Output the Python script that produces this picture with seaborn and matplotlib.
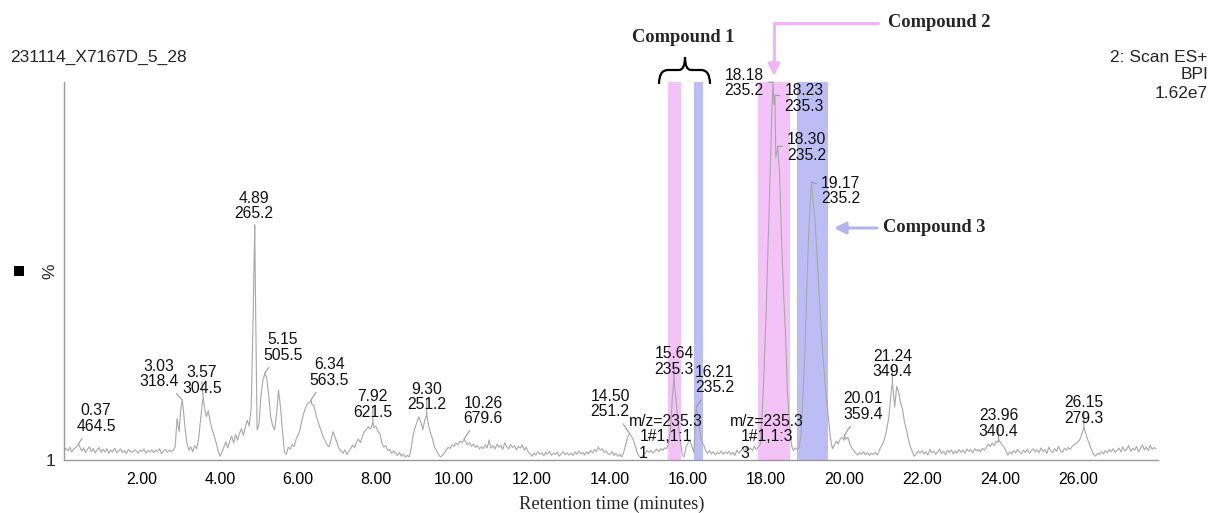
import numpy as np
import pandas as pd
import matplotlib
matplotlib.use("Agg")
import matplotlib.pyplot as plt
import seaborn as sns
from matplotlib.path import Path
from matplotlib.patches import PathPatch, Rectangle

# ---------------------------------------------------------------------------
# Base peak intensity trace (% of 1.62e7), one row per minute,
# scans every 0.05 min (t = minute + 0.05 * k, k = 0..19)
# ---------------------------------------------------------------------------
scan_interval = 0.05
bpi_rows = [
    [2.2, 3.1, 2.4, 3.4, 2.1, 2.9, 3.3, 3.8, 3.6, 2.4, 3.2, 2.0, 2.8, 3.5, 2.2, 3.0, 1.9, 2.7, 3.3, 2.0],   # 0
    [2.8, 2.1, 3.0, 1.8, 2.6, 2.2, 3.1, 1.9, 2.4, 2.9, 2.0, 2.5, 1.7, 2.8, 2.3, 2.0, 2.7, 2.4, 1.8, 2.6],   # 1
    [2.3, 2.9, 1.8, 2.5, 2.1, 2.7, 1.9, 2.6, 2.2, 3.0, 1.7, 2.4, 2.8, 2.0, 2.6, 2.2, 2.5, 3.5, 11.0, 7.5],  # 2
    [14.0, 14.5, 8.7, 4.5, 2.6, 3.5, 2.2, 3.8, 3.0, 5.5, 10.5, 15.5, 14.0, 11.5, 13.0, 10.0, 8.0, 6.5, 4.5, 2.5],  # 3
    [1.0, 2.0, 3.5, 4.8, 3.2, 5.0, 6.3, 4.5, 6.8, 5.2, 7.0, 8.3, 6.5, 8.8, 10.5, 9.0, 14.0, 38.0, 52.0, 8.0],  # 4
    [9.5, 17.0, 21.0, 23.0, 21.5, 17.0, 11.5, 9.0, 8.0, 12.0, 18.5, 14.0, 8.0, 2.0, 1.5, 3.4, 2.8, 4.2, 3.5, 5.5],  # 5
    [6.5, 8.0, 10.5, 12.5, 14.0, 15.0, 15.2, 14.8, 14.5, 12.5, 10.5, 9.0, 7.5, 6.0, 5.0, 4.0, 3.5, 5.5, 7.5, 6.0],  # 6
    [4.5, 3.0, 2.5, 1.8, 2.6, 1.5, 2.2, 3.0, 4.0, 3.2, 4.8, 5.5, 4.6, 6.2, 7.5, 8.0, 8.8, 8.2, 9.2, 8.6],   # 7
    [8.9, 7.5, 7.0, 4.5, 3.4, 3.8, 2.5, 2.8, 1.8, 2.4, 1.8, 1.2, 2.0, 1.0, 1.6, 0.8, 1.2, 0.8, 3.0, 6.5],   # 8
    [8.5, 10.0, 11.4, 10.0, 8.0, 10.5, 12.0, 9.0, 7.0, 5.5, 3.4, 2.5, 1.5, 0.8, 1.2, 1.8, 2.6, 3.4, 3.0, 4.0],  # 9
    [3.6, 4.5, 4.0, 5.0, 4.6, 5.2, 4.8, 4.0, 4.6, 3.6, 4.2, 3.3, 3.8, 2.9, 3.5, 3.0, 4.0, 3.2, 5.3, 3.1],   # 10
    [3.8, 2.9, 4.2, 3.4, 3.9, 2.8, 4.6, 3.5, 3.0, 4.1, 3.3, 3.8, 2.7, 3.6, 3.1, 4.0, 2.6, 3.4, 2.2, 1.6],   # 11
    [1.0, 1.8, 1.3, 2.2, 1.5, 1.9, 1.1, 2.0, 1.6, 2.3, 1.2, 1.8, 1.5, 2.1, 1.0, 1.7, 2.2, 1.4, 1.9, 1.3],   # 12
    [1.8, 1.2, 2.1, 1.5, 2.4, 1.7, 2.0, 1.3, 2.2, 1.6, 2.5, 1.9, 2.8, 2.2, 3.4, 2.6, 3.0, 2.0, 2.4, 1.6],   # 13
    [1.5, 2.2, 1.2, 1.8, 1.0, 1.5, 0.8, 2.0, 4.0, 6.0, 7.0, 6.2, 5.3, 3.5, 1.8, 1.0, 0.5, 1.2, 1.8, 2.5],   # 14
    [2.0, 2.6, 1.8, 2.4, 2.9, 2.2, 3.0, 2.5, 3.2, 3.0, 4.5, 8.0, 17.0, 20.0, 15.0, 9.0, 5.3, 1.5, 0.8, 3.5],  # 15
    [4.5, 5.3, 3.5, 2.0, 12.5, 11.0, 8.0, 5.0, 4.0, 2.5, 1.8, 2.5, 1.6, 2.2, 1.4, 2.0, 1.6, 2.4, 1.5, 2.1],  # 16
    [1.7, 2.3, 1.5, 2.0, 1.2, 2.6, 1.8, 2.4, 3.0, 2.2, 3.4, 2.6, 3.2, 2.5, 3.6, 2.8, 3.5, 4.0, 12.0, 24.0],  # 17
    [38.0, 56.0, 75.0, 92.0, 94.0, 80.0, 83.0, 75.0, 58.0, 44.0, 33.0, 18.0, 10.0, 4.0, 2.5, 3.2, 2.8, 3.5, 7.0, 18.0],  # 18
    [30.0, 47.0, 62.0, 71.0, 69.0, 64.0, 56.0, 46.0, 37.0, 29.0, 22.0, 16.0, 11.0, 6.0, 3.0, 3.8, 5.0, 4.2, 5.5, 6.0],  # 19
    [5.2, 5.5, 6.0, 4.2, 3.2, 2.5, 1.8, 1.3, 2.0, 1.5, 2.2, 1.4, 1.9, 1.2, 1.8, 1.4, 2.0, 1.3, 2.5, 3.5],   # 20
    [4.5, 6.0, 8.5, 11.4, 17.0, 19.5, 14.0, 19.5, 18.0, 15.0, 13.5, 10.0, 8.0, 5.5, 3.5, 2.2, 1.0, 1.6, 2.4, 1.8],  # 21
    [2.5, 1.6, 2.2, 1.3, 2.8, 1.9, 2.4, 1.5, 2.1, 2.9, 1.7, 2.3, 1.4, 2.6, 2.0, 2.7, 1.6, 2.4, 1.9, 2.8],   # 22
    [2.0, 2.6, 1.8, 2.9, 2.3, 2.7, 1.9, 3.0, 2.4, 2.8, 2.2, 3.1, 2.6, 3.4, 4.2, 3.6, 4.5, 3.8, 5.0, 4.6],   # 23
    [4.8, 4.0, 3.5, 2.4, 1.3, 2.2, 1.6, 2.5, 1.9, 2.8, 2.1, 1.7, 2.6, 2.0, 2.9, 1.8, 2.4, 3.0, 2.1, 2.7],   # 24
    [1.9, 3.2, 2.2, 2.8, 1.7, 3.4, 2.4, 2.0, 3.0, 2.3, 3.6, 2.5, 2.0, 3.1, 2.6, 3.3, 2.8, 3.6, 4.0, 4.5],   # 25
    [4.8, 5.5, 7.0, 8.5, 7.0, 5.3, 4.0, 2.6, 1.5, 1.0, 1.8, 1.4, 2.2, 1.6, 2.5, 1.9, 2.8, 2.2, 3.0, 2.0],   # 26
    [2.6, 3.2, 2.1, 3.5, 2.4, 2.9, 3.8, 2.3, 3.1, 2.6, 3.6, 2.2, 3.0, 4.0, 2.7, 3.4, 2.5, 3.9, 2.8, 3.3],   # 27
]
bpi_last = 2.9  # scan at 28.00 min

# Labelled peak apexes: retention time (min), intensity (%), base peak m/z
peak_rt = [0.37, 3.03, 3.57, 4.89, 5.15, 6.34, 7.92, 9.30, 10.26, 14.50,
           15.64, 16.21, 18.18, 18.23, 18.30, 19.17, 20.01, 21.24, 23.96, 26.15]
peak_pct = [4.3, 15.9, 16.4, 62.0, 23.0, 16.0, 10.0, 12.0, 5.6, 7.0,
            21.5, 14.0, 100.0, 96.5, 83.0, 73.5, 6.6, 20.6, 5.5, 8.5]
peak_mz = [464.5, 318.4, 304.5, 265.2, 505.5, 563.5, 621.5, 251.2, 679.6, 251.2,
           235.3, 235.2, 235.2, 235.3, 235.2, 235.2, 359.4, 349.4, 340.4, 279.3]

# Extracted-ion windows (m/z = 235.3) marking the compounds
band_start = [15.49, 16.15, 17.79, 18.79]
band_end = [15.82, 16.38, 18.61, 19.58]
band_group = ["pink", "blue", "pink", "blue"]

x_tick_values = [2, 4, 6, 8, 10, 12, 14, 16, 18, 20, 22, 24, 26]
x_tick_labels = ["2.00", "4.00", "6.00", "8.00", "10.00", "12.00", "14.00",
                 "16.00", "18.00", "20.00", "22.00", "24.00", "26.00"]

# ---------------------------------------------------------------------------
# Build the trace: regular scans plus the labelled apex scans
# ---------------------------------------------------------------------------
assert all(len(r) == 20 for r in bpi_rows)
grid_pct = np.concatenate([np.asarray(r, float) for r in bpi_rows] + [[bpi_last]])
grid_rt = np.round(np.arange(grid_pct.size) * scan_interval, 2)
apex_rt = np.asarray(peak_rt, float)
apex_pct = np.asarray(peak_pct, float)
keep = np.min(np.abs(grid_rt[:, None] - apex_rt[None, :]), axis=1) > 0.006
rt_all = np.concatenate([grid_rt[keep], apex_rt])
pct_all = np.concatenate([grid_pct[keep], apex_pct])
order = np.argsort(rt_all)
trace = pd.DataFrame({"rt": rt_all[order], "pct": pct_all[order]})

# ---------------------------------------------------------------------------
# Styling
# ---------------------------------------------------------------------------
sns.set_style("white")
plt.rcParams["font.family"] = ["Liberation Sans", "DejaVu Sans"]

W, H = 1209, 513
fig = plt.figure(figsize=(W / 100, H / 100), dpi=100)
ax_left, ax_right, ax_top, ax_bottom = 64, 1158, 82, 460
ax = fig.add_axes([ax_left / W, 1 - ax_bottom / H,
                   (ax_right - ax_left) / W, (ax_bottom - ax_top) / H])

band_colors = {"pink": "#f3c3f7", "blue": "#bdbdf5"}
for s, e, g in zip(band_start, band_end, band_group):
    ax.axvspan(s, e, color=band_colors[g], lw=0, zorder=0)

trace_color = "#a8a8a8"
sns.lineplot(data=trace, x="rt", y="pct", ax=ax, color=trace_color,
             linewidth=0.8, estimator=None, sort=False, zorder=2)

ax.set_xlim(0, 28.05)
ax.set_ylim(0, 100)
ax.set_xlabel("")
ax.set_ylabel("")

for side in ("top", "right"):
    ax.spines[side].set_visible(False)
for side in ("left", "bottom"):
    ax.spines[side].set_color("#9a9a9a")
    ax.spines[side].set_linewidth(1.0)

# x ticks: labelled every 2 min, a tick every minute, fine ticks every 10 s
major_pos = np.arange(1, 28)
ax.set_xticks(major_pos)
ax.set_xticklabels([x_tick_labels[x_tick_values.index(m)] if m in x_tick_values else ""
                    for m in major_pos])
ax.set_xticks(np.arange(0, 28.05, 1 / 6), minor=True)
ax.tick_params(axis="x", which="major", direction="out", length=5, width=0.8,
               color="#9a9a9a", labelsize=11.5, labelcolor="black", pad=4)
ax.tick_params(axis="x", which="minor", direction="out", length=3, width=0.7,
               color="#9a9a9a")
ax.set_yticks(np.arange(0, 101, 10))
ax.set_yticklabels([])
ax.tick_params(axis="y", which="major", direction="out", length=4, width=0.8,
               color="#9a9a9a")

# Peak labels (offsets in pixels from the apex)
label_offsets_px = [(17.5, 25), (-23, 26), (-1.5, 17.5), (-1, 19.5), (18, 25.5),
                    (18, 27), (0, 17.5), (0, 17.5), (19, 28), (-19.5, 29.5),
                    (0, 17.5), (18.5, 27), (-29, -1), (29, -3), (29, -1),
                    (29, -9), (19, 28.5), (0, 18), (0, 16), (0, 17.5)]
for t, p, mz, (dx, dy) in zip(peak_rt, peak_pct, peak_mz, label_offsets_px):
    ax.annotate(f"{t:.2f}\n{mz:.1f}", xy=(t, p), xytext=(dx, dy),
                textcoords="offset pixels", ha="center", va="center",
                fontsize=11.3, color="#111111", linespacing=1.05, zorder=5,
                annotation_clip=False,
                arrowprops=dict(arrowstyle="-", color="#9a9a9a", lw=0.8,
                                shrinkA=1, shrinkB=0))

# Extracted-ion trace captions
for tx, line3_t in ((15.43, 14.86), (18.02, 17.45)):
    caption = "m/z=235.3\n1#1,1:1" if tx < 17 else "m/z=235.3\n1#1,1:3"
    ax.text(tx, 8.2, caption, ha="center", va="center", fontsize=11.3,
            color="#111111", linespacing=1.05, zorder=5)
    ax.text(line3_t, 1.6, "1" if tx < 17 else "3", ha="center", va="center",
            fontsize=11.3, color="#111111", zorder=5)


def fpx(x, y):
    """Figure-fraction coordinates from pixel coordinates measured from the top."""
    return x / W, 1 - y / H


# Header texts
fig.text(*fpx(10, 57), "231114_X7167D_5_28", ha="left", va="center", fontsize=12.5)
fig.text(*fpx(1208, 57), "2: Scan ES+", ha="right", va="center", fontsize=12.5)
fig.text(*fpx(1208, 75), "BPI", ha="right", va="center", fontsize=12.5)
fig.text(*fpx(1208, 93), "1.62e7", ha="right", va="center", fontsize=12.5)

# Left axis decorations
fig.patches.append(Rectangle(fpx(14, 276), 10 / W, 10 / H, transform=fig.transFigure,
                             color="black", lw=0))
fig.text(*fpx(50, 271), "%", rotation=90, ha="center", va="center", fontsize=12.5)
fig.text(*fpx(55, 461), "1", ha="right", va="center", fontsize=12.5)

# Axis title
fig.text(*fpx(612, 504), "Retention time (minutes)", ha="center", va="center",
         fontsize=13.3, family="Liberation Serif")

# Compound annotations
serif_bold = dict(family="Liberation Serif", fontweight="bold", fontsize=13.3)
fig.text(*fpx(683, 37), "Compound 1", ha="center", va="center", **serif_bold)
fig.text(*fpx(888, 23), "Compound 2", ha="left", va="center", **serif_bold)
fig.text(*fpx(883, 228), "Compound 3", ha="left", va="center", **serif_bold)

brace_pts = [(659, 84), (659, 70), (668, 70), (679, 70), (685, 70), (685, 57),
             (685, 70), (691, 70), (701, 70), (710, 70), (710, 84)]
brace_codes = [Path.MOVETO, Path.CURVE3, Path.CURVE3, Path.LINETO, Path.CURVE3,
               Path.CURVE3, Path.CURVE3, Path.CURVE3, Path.LINETO, Path.CURVE3,
               Path.CURVE3]
brace = Path([fpx(x, y) for x, y in brace_pts], brace_codes)
fig.patches.append(PathPatch(brace, transform=fig.transFigure, fill=False,
                             edgecolor="black", lw=1.6))

arrow_pink = "#f0b6f4"
arrow_blue = "#b3b3f0"
fig.add_artist(plt.Line2D([878 / W, 774 / W], [1 - 23 / H, 1 - 23 / H],
                          transform=fig.transFigure, color=arrow_pink, lw=2.2))
fig.add_artist(plt.Line2D([774 / W, 774 / W], [1 - 23 / H, 1 - 62 / H],
                          transform=fig.transFigure, color=arrow_pink, lw=2.2))
ax.annotate("", xy=fpx(774, 76), xytext=fpx(774, 60), xycoords="figure fraction",
            textcoords="figure fraction", annotation_clip=False,
            arrowprops=dict(arrowstyle="-|>,head_length=0.7,head_width=0.35",
                            color=arrow_pink, lw=2.2, shrinkA=0, shrinkB=0))
ax.annotate("", xy=fpx(834, 228), xytext=fpx(877, 228), xycoords="figure fraction",
            textcoords="figure fraction", annotation_clip=False,
            arrowprops=dict(arrowstyle="-|>,head_length=0.7,head_width=0.35",
                            color=arrow_blue, lw=2.2, shrinkA=0, shrinkB=0))

fig.savefig("out.png", dpi=100)
